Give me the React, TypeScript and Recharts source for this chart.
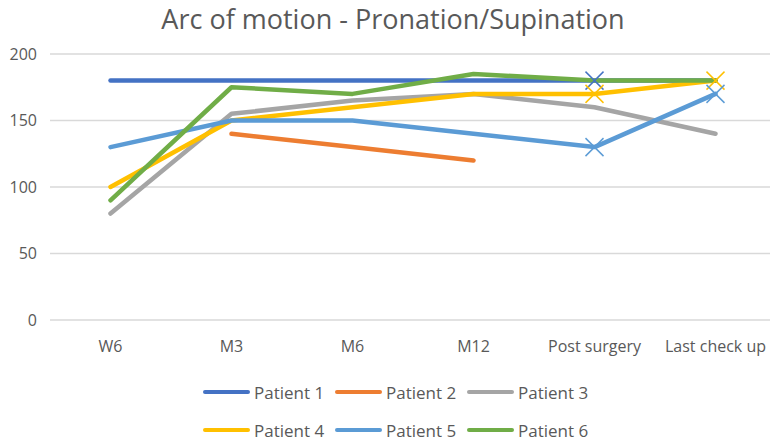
import React from 'react';
import { LineChart, Line, XAxis, YAxis, CartesianGrid } from 'recharts';

const stages = ['W6', 'M3', 'M6', 'M12', 'Post surgery', 'Last check up'];

const patient1 = [180, 180, 180, 180, 180, 180];
const patient2 = [null, 140, 130, 120, null, null];
const patient3 = [80, 155, 165, 170, 160, 140];
const patient4 = [100, 150, 160, 170, 170, 180];
const patient5 = [130, 150, 150, 140, 130, 170];
const patient6 = [90, 175, 170, 185, 180, 180];

// stages where Excel drew an "x" marker
const marked1 = ['Post surgery'];
const marked4 = ['Post surgery', 'Last check up'];
const marked5 = ['Post surgery', 'Last check up'];

const yTicks = [0, 50, 100, 150, 200];

interface Series {
  key: string;
  name: string;
  values: (number | null)[];
  color: string;
  marked: string[];
}

const series: Series[] = [
  { key: 'p1', name: 'Patient 1', values: patient1, color: '#4472C4', marked: marked1 },
  { key: 'p2', name: 'Patient 2', values: patient2, color: '#ED7D31', marked: [] },
  { key: 'p3', name: 'Patient 3', values: patient3, color: '#A5A5A5', marked: [] },
  { key: 'p4', name: 'Patient 4', values: patient4, color: '#FFC000', marked: marked4 },
  { key: 'p5', name: 'Patient 5', values: patient5, color: '#5B9BD5', marked: marked5 },
  { key: 'p6', name: 'Patient 6', values: patient6, color: '#70AD47', marked: [] },
];

const data = stages.map((stage, i) => {
  const row: Record<string, string | number | null> = { stage };
  series.forEach(s => {
    row[s.key] = s.values[i];
  });
  return row;
});

const textColor = '#595959';
const font = '"Open Sans", sans-serif';

const makeDot = (s: Series) => (props: any) => {
  const { cx, cy, payload, index } = props;
  if (cx == null || cy == null || !s.marked.includes(payload.stage)) {
    return <g key={`${s.key}-dot-${index}`} />;
  }
  const r = 9;
  return (
    <g key={`${s.key}-dot-${index}`} stroke={s.color} strokeWidth={1.5}>
      <line x1={cx - r} y1={cy - r} x2={cx + r} y2={cy + r} />
      <line x1={cx - r} y1={cy + r} x2={cx + r} y2={cy - r} />
    </g>
  );
};

const LegendBox = () => (
  <div
    style={{
      position: 'absolute',
      left: 203,
      top: 378,
      width: 400,
      display: 'flex',
      flexWrap: 'wrap',
      rowGap: 10,
    }}
  >
    {series.map(s => (
      <div key={s.key} style={{ display: 'flex', alignItems: 'center', width: 132, height: 28 }}>
        <div
          style={{ width: 47, height: 4.5, borderRadius: 3, backgroundColor: s.color, marginRight: 4 }}
        />
        <span style={{ fontSize: 17, color: textColor, fontFamily: font }}>{s.name}</span>
      </div>
    ))}
  </div>
);

export default function App() {
  return (
    <div
      style={{
        position: 'absolute',
        left: 0,
        top: 0,
        width: 770,
        height: 441,
        overflow: 'hidden',
        background: '#fff',
        fontFamily: font,
      }}
    >
      <div
        style={{
          position: 'absolute',
          left: 0,
          top: 0,
          width: 786,
          textAlign: 'center',
          fontSize: 27,
          color: textColor,
        }}
      >
        Arc of motion - Pronation/Supination
      </div>
      <LineChart width={776} height={441} data={data} margin={{ top: 54, right: 0, bottom: 91, left: 0 }}>
        <CartesianGrid vertical={false} stroke="#d9d9d9" strokeWidth={1.5} />
        <XAxis
          dataKey="stage"
          scale="band"
          axisLine={false}
          tickLine={false}
          tickMargin={15}
          height={30}
          interval={0}
          tick={{ fill: textColor, fontSize: 16, fontFamily: font }}
        />
        <YAxis
          domain={[0, 200]}
          ticks={yTicks}
          axisLine={false}
          tickLine={false}
          width={50}
          tickMargin={7}
          tick={{ fill: textColor, fontSize: 16, fontFamily: font }}
        />
        {series.map(s => (
          <Line
            key={s.key}
            type="linear"
            dataKey={s.key}
            name={s.name}
            stroke={s.color}
            strokeWidth={4.5}
            strokeLinecap="round"
            strokeLinejoin="round"
            dot={makeDot(s)}
            activeDot={false}
            connectNulls={false}
            isAnimationActive={false}
          />
        ))}
      </LineChart>
      <LegendBox />
    </div>
  );
}
